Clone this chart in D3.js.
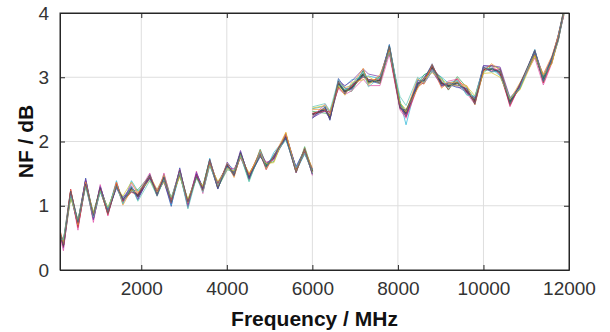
<!DOCTYPE html>
<html>
<head>
<meta charset="utf-8">
<script src="https://cdn.jsdelivr.net/npm/d3@7"></script>
<style>
  html, body { margin: 0; padding: 0; background: #fff; }
  svg { display: block; font-family: "Liberation Sans", Arial, sans-serif; }
</style>
</head>
<body>
<div id="chart"></div>
<script>
// band below 6000 MHz
const freqLow = [100, 180, 350, 520, 700, 880, 1040, 1220, 1420, 1570, 1770, 1920, 2200, 2370, 2530, 2700, 2900, 3090, 3290, 3440, 3600, 3790, 4010, 4170, 4320, 4520, 4780, 4920, 5100, 5380, 5620, 5820, 6000];
const nfLow = [0.55, 0.40, 1.20, 0.72, 1.37, 0.82, 1.27, 0.90, 1.33, 1.07, 1.27, 1.15, 1.45, 1.19, 1.43, 1.07, 1.53, 1.03, 1.48, 1.25, 1.68, 1.30, 1.62, 1.50, 1.80, 1.43, 1.82, 1.62, 1.75, 2.08, 1.55, 1.86, 1.53];

// band above 6000 MHz
const freqHigh = [6000, 6300, 6410, 6610, 6760, 6920, 7190, 7310, 7580, 7800, 8050, 8190, 8460, 8610, 8800, 9020, 9180, 9390, 9610, 9800, 10000, 10190, 10390, 10620, 10850, 11200, 11400, 11600, 11750, 11880];
const nfHigh = [2.42, 2.50, 2.38, 2.90, 2.78, 2.84, 3.05, 2.93, 2.95, 3.45, 2.55, 2.44, 2.90, 2.95, 3.15, 2.91, 2.86, 2.92, 2.78, 2.63, 3.12, 3.13, 3.08, 2.62, 2.85, 3.38, 2.97, 3.27, 3.62, 4.02];

// how each measured run differs from the mean curve (dB)
const runOffsetsLow = [
  [0,0,0,0,0,0,0,0,0,0,0,0,0,0,0,0,0,0,0,0,0,0,0,0,0,0,0,0,0,0,0,0,0],
  [0.04,-0.06,0.02,-0.04,0.06,-0.02,0.04,0.00,-0.04,0.06,0.02,-0.06,0.04,0.00,-0.04,-0.08,0.06,-0.04,0.02,0.04,-0.02,0.06,0.00,-0.04,0.04,0.02,-0.06,0.04,0.00,-0.04,0.06,0.02,-0.04],
  [-0.06,0.04,-0.04,0.06,-0.02,0.04,-0.06,0.02,0.06,-0.04,0.12,0.08,-0.04,0.06,0.02,-0.06,-0.04,0.06,-0.02,0.02,0.06,-0.04,0.04,0.06,-0.02,0.04,0.02,-0.04,0.08,-0.02,0.00,-0.06,0.04],
  [0.02,0.06,-0.06,0.04,-0.04,0.08,-0.02,0.06,-0.02,0.04,-0.04,0.10,0.02,-0.04,0.06,0.04,-0.06,0.02,-0.04,0.06,0.04,-0.02,-0.06,0.04,0.02,-0.04,0.06,0.02,-0.06,0.04,-0.04,0.06,0.02],
  [-0.04,-0.10,0.04,-0.10,0.02,-0.08,0.06,-0.06,0.04,-0.02,0.08,0.04,0.06,-0.04,0.08,0.02,0.04,-0.02,0.06,-0.06,0.04,0.02,-0.04,0.08,-0.06,0.06,-0.02,0.06,-0.04,0.02,-0.04,0.04,-0.06],
  [0.00,-0.04,0.06,-0.06,-0.04,0.02,0.00,-0.04,0.02,0.00,-0.06,0.02,-0.02,0.04,-0.02,0.04,-0.04,0.04,0.00,-0.02,-0.04,0.04,0.02,-0.02,-0.04,0.06,0.00,-0.06,0.04,0.00,0.02,-0.04,0.00],
  [0.06,0.02,-0.02,0.02,0.04,-0.04,0.02,0.04,-0.06,0.02,0.04,-0.04,0.00,0.02,-0.06,-0.04,0.02,-0.06,0.04,0.02,0.00,-0.04,0.06,0.02,0.06,-0.02,0.04,0.04,-0.02,0.04,0.04,-0.02,0.04],
  [-0.02,0.04,-0.08,0.06,-0.06,0.06,-0.04,0.08,-0.04,0.08,0.10,0.06,-0.06,0.02,-0.06,0.06,-0.08,0.08,-0.06,0.06,-0.04,0.08,-0.04,0.04,-0.04,0.08,-0.04,0.04,-0.08,0.06,-0.02,0.04,-0.02],
  [0.08,0.00,0.04,-0.02,0.00,0.04,-0.02,-0.02,0.04,-0.06,-0.02,0.04,0.02,0.06,0.04,-0.02,0.00,0.02,-0.04,0.04,0.02,0.00,0.04,-0.06,0.00,0.04,0.04,-0.04,0.02,0.06,-0.02,0.00,0.06],
  [-0.08,0.08,-0.04,0.04,-0.08,0.00,-0.04,0.06,-0.02,-0.04,0.04,-0.08,-0.06,-0.04,-0.02,0.06,-0.02,-0.08,-0.04,-0.04,-0.06,0.02,-0.02,0.00,-0.02,-0.06,0.02,-0.02,0.04,-0.06,0.04,-0.04,-0.02],
  [0.03,-0.03,0.03,0.02,-0.03,0.03,0.01,-0.02,-0.03,0.04,-0.05,0.02,0.03,-0.03,0.02,-0.02,0.03,0.03,-0.03,0.02,0.04,-0.03,0.03,-0.03,0.03,0.02,-0.04,-0.02,0.03,-0.01,-0.03,0.03,-0.04]
];
const runOffsetsHigh = [
  [0,0,0,0,0,0,0,0,0,0,0,0,0,0,0,0,0,0,0,0,0,0,0,0,0,0,0,0,0,0],
  [-0.06,0.03,-0.05,0.08,0.05,-0.03,0.06,0.02,-0.05,0.06,0.03,-0.06,0.05,0.00,0.06,-0.05,0.03,-0.08,0.05,-0.03,0.06,0.03,-0.05,0.02,-0.03,0.05,-0.02,0.03,0.04,0.00],
  [0.09,0.05,0.06,-0.03,0.08,0.12,-0.05,0.09,0.03,0.05,0.09,-0.18,0.06,0.08,-0.03,0.09,0.05,0.03,-0.05,0.06,0.03,-0.05,0.02,0.06,-0.03,0.00,0.05,-0.05,0.03,-0.03],
  [0.05,-0.06,0.03,-0.05,0.03,-0.06,0.05,-0.03,0.06,-0.06,0.05,0.03,-0.03,0.09,-0.05,0.08,-0.06,0.09,0.06,0.03,-0.05,0.05,0.06,-0.03,0.05,-0.05,0.03,-0.03,0.00,-0.05],
  [-0.03,0.08,0.06,-0.08,-0.05,-0.05,-0.08,-0.06,-0.08,-0.09,-0.06,-0.08,-0.06,0.05,-0.03,-0.06,0.08,0.05,-0.03,-0.05,0.02,-0.03,0.06,-0.08,0.03,-0.08,-0.09,-0.05,0.02,-0.06],
  [0.02,-0.03,0.08,-0.06,-0.03,0.02,-0.05,0.03,0.02,-0.05,-0.03,-0.05,-0.05,-0.03,0.03,0.03,-0.05,0.06,0.02,-0.02,0.00,0.06,-0.03,-0.06,0.02,0.03,-0.06,-0.03,-0.05,0.03],
  [-0.05,-0.02,-0.03,0.05,0.09,0.10,0.08,0.12,0.06,0.02,-0.02,-0.03,0.03,-0.05,-0.06,-0.03,0.03,-0.06,-0.02,0.05,0.06,0.05,0.08,0.06,0.00,0.03,0.05,0.05,0.00,0.02],
  [0.10,0.06,0.09,-0.03,-0.06,0.08,-0.09,0.08,-0.05,0.03,0.05,0.06,-0.08,0.03,-0.08,0.06,0.03,-0.05,0.08,0.08,-0.06,-0.06,-0.08,0.05,-0.05,-0.05,0.06,-0.06,-0.03,0.05],
  [0.08,0.00,0.02,0.03,0.06,0.03,0.09,-0.05,0.09,-0.03,0.00,0.02,0.08,-0.06,0.05,-0.08,0.06,0.00,0.09,-0.06,-0.03,0.08,0.03,0.03,0.06,-0.03,0.08,0.06,0.03,-0.03],
  [0.12,0.09,0.10,0.06,0.02,0.05,0.03,-0.08,0.05,-0.06,0.15,0.12,0.10,-0.03,-0.05,0.05,-0.03,0.03,-0.06,0.08,0.03,0.00,-0.06,0.05,-0.02,0.05,-0.03,0.02,-0.06,0.02],
  [-0.04,0.04,-0.04,0.04,-0.04,0.04,-0.03,0.04,-0.04,0.04,-0.04,0.05,-0.04,0.04,0.04,-0.04,0.05,-0.04,0.04,-0.05,0.04,-0.04,0.04,-0.04,0.04,0.04,-0.04,0.04,-0.03,0.03]
];
const runColors = ["#3c3c3c", "#2545a8", "#22b4d6", "#35a552", "#e04aa6", "#d02535", "#7535a5", "#d8c228", "#f0902e", "#5cc4b4", "#4a4a70"];

const xTicks = [2000, 4000, 6000, 8000, 10000, 12000];
const yTicks = [0, 1, 2, 3, 4];

const W = 610, H = 332;
const margin = { top: 13, right: 41, bottom: 62, left: 60 };
const width = W - margin.left - margin.right;
const height = H - margin.top - margin.bottom;

const svg = d3.select("#chart").append("svg")
    .attr("width", W)
    .attr("height", H);

const x = d3.scaleLinear().domain([100, 12000]).range([0, width]);
const y = d3.scaleLinear().domain([0, 4]).range([height, 0]);

const g = svg.append("g").attr("transform", `translate(${margin.left},${margin.top})`);

// grid
g.append("g").selectAll("line")
    .data(xTicks.slice(0, -1))
    .enter().append("line")
    .attr("x1", d => x(d)).attr("x2", d => x(d))
    .attr("y1", 0).attr("y2", height)
    .attr("stroke", "#dedede").attr("stroke-width", 1);
g.append("g").selectAll("line")
    .data(yTicks.slice(1, -1))
    .enter().append("line")
    .attr("x1", 0).attr("x2", width)
    .attr("y1", d => y(d)).attr("y2", d => y(d))
    .attr("stroke", "#dedede").attr("stroke-width", 1);

svg.append("clipPath").attr("id", "plotClip")
  .append("rect").attr("width", width).attr("height", height);

const line = d3.line().x(d => x(d[0])).y(d => y(d[1]));
const plot = g.append("g").attr("clip-path", "url(#plotClip)");

runColors.forEach((col, r) => {
    const low = freqLow.map((f, i) => [f, nfLow[i] + runOffsetsLow[r][i]]);
    const high = freqHigh.map((f, i) => [f, nfHigh[i] + runOffsetsHigh[r][i]]);
    [low, high].forEach(pts => {
        plot.append("path")
            .datum(pts)
            .attr("d", line)
            .attr("fill", "none")
            .attr("stroke", col)
            .attr("stroke-width", r === 0 ? 2 : 1)
            .attr("stroke-opacity", r === 0 ? 0.9 : 0.7)
            .attr("stroke-linejoin", "round");
    });
});

// axes, MATLAB style box with inward ticks
const axisColor = "#262626";
const fmt = d3.format("d");
const xAxis = g.append("g").attr("transform", `translate(0,${height})`)
    .call(d3.axisBottom(x).tickValues(xTicks).tickFormat(fmt).tickSizeInner(-5).tickSizeOuter(0).tickPadding(12));
const yAxis = g.append("g")
    .call(d3.axisLeft(y).tickValues(yTicks).tickFormat(fmt).tickSizeInner(-5).tickSizeOuter(0).tickPadding(11));
g.append("g")
    .call(d3.axisTop(x).tickValues(xTicks).tickSizeInner(-5).tickSizeOuter(0).tickFormat(""));
g.append("g").attr("transform", `translate(${width},0)`)
    .call(d3.axisRight(y).tickValues(yTicks).tickSizeInner(-5).tickSizeOuter(0).tickFormat(""));

g.selectAll(".domain, .tick line").attr("stroke", axisColor).attr("stroke-width", 1);
[xAxis, yAxis].forEach(a => a.selectAll("text")
    .attr("fill", "#333")
    .style("font-size", "19px")
    .style("font-family", "'Liberation Sans', Arial, sans-serif"));

g.append("rect")
    .attr("width", width).attr("height", height)
    .attr("fill", "none").attr("stroke", axisColor).attr("stroke-width", 1);

svg.append("text")
    .attr("x", margin.left + width / 2)
    .attr("y", 326)
    .attr("text-anchor", "middle")
    .attr("font-weight", "bold")
    .attr("font-size", "21px")
    .attr("fill", "#111")
    .text("Frequency / MHz");

svg.append("text")
    .attr("transform", `translate(33,${margin.top + height / 2}) rotate(-90)`)
    .attr("text-anchor", "middle")
    .attr("font-weight", "bold")
    .attr("font-size", "21px")
    .attr("fill", "#111")
    .text("NF / dB");
</script>
</body>
</html>
